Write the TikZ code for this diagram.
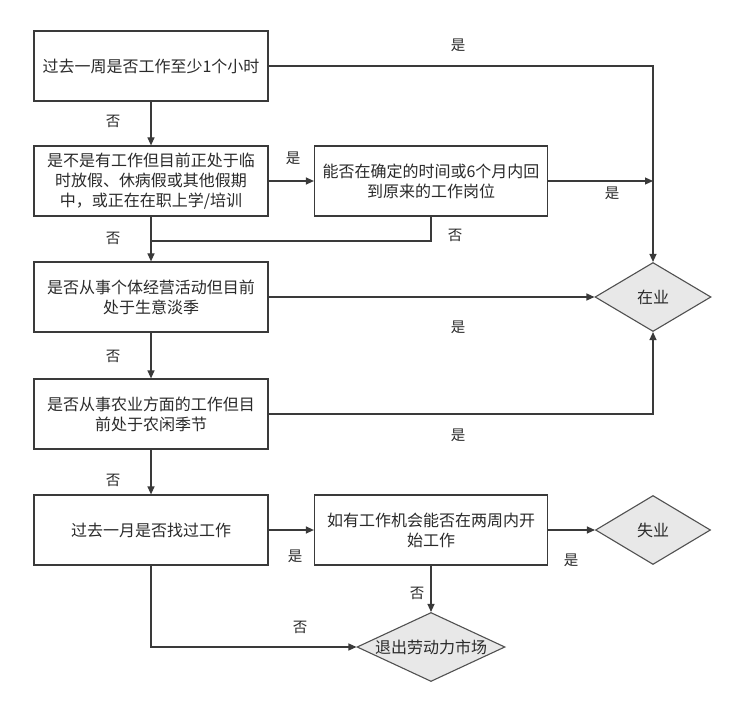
\documentclass[tikz,border=0pt]{standalone}
\usepackage{fontspec}
\setmainfont{Noto Sans CJK SC}
\usetikzlibrary{shapes.geometric,arrows.meta}
\definecolor{linec}{HTML}{3A3A3A}
\definecolor{txtc}{HTML}{2A2A2A}
\definecolor{dfill}{HTML}{E8E8E8}
\definecolor{dline}{HTML}{505050}
\begin{document}
\begin{tikzpicture}[x=1pt,y=-1pt,
  box/.style={draw=linec,line width=1.2pt,fill=white,minimum width=234pt,minimum height=70pt,
    inner sep=0pt,align=center,text=txtc,font=\fontsize{16}{20}\selectfont},
  dia/.style={diamond,draw=dline,line width=1.1pt,fill=dfill,aspect=2.4,inner sep=0pt,
    text=txtc,font=\fontsize{16}{20}\selectfont},
  conn/.style={draw=linec,line width=1.2pt},
  arr/.style={conn,-{Triangle[length=8pt,width=7pt]}},
  lbl/.style={text=txtc,font=\fontsize{14.5}{16}\selectfont,inner sep=0pt}]
\useasboundingbox (0,0) rectangle (742,722);
\fill[white] (0,0) rectangle (742,722);
% boxes
\node[box] (b1) at (151,66) {过去一周是否工作至少1个小时};
\node[box] (b2) at (151,181) {是不是有工作但目前正处于临\\时放假、休病假或其他假期\\中，或正在在职上学/培训};
\node[box,minimum width=233pt] (b3) at (431,181) {能否在确定的时间或6个月内回\\到原来的工作岗位};
\node[box] (b4) at (151,297) {是否从事个体经营活动但目前\\处于生意淡季};
\node[box] (b5) at (151,414) {是否从事农业方面的工作但目\\前处于农闲季节};
\node[box] (b6) at (151,530) {过去一月是否找过工作};
\node[box,minimum width=233pt] (b7) at (431,530) {如有工作机会能否在两周内开\\始工作};
% diamonds
\node[dia,minimum width=116pt,minimum height=69pt] (d1) at (653,297) {在业};
\node[dia,minimum width=115pt,minimum height=69pt] (d2) at (653,530) {失业};
\node[dia,minimum width=148pt,minimum height=69pt] (d3) at (431,647) {退出劳动力市场};
% helper coordinates
\coordinate (c1) at (653,66);
\coordinate (c2) at (653,181);
\coordinate (c3) at (431,241);
\coordinate (c4) at (151,241);
\coordinate (c5) at (653,414);
\coordinate (c6) at (151,647);
% connectors
\draw[arr] (b1.east) -- (c1) -- (d1.north);
\draw[arr] (b1.south) -- (b2.north);
\draw[arr] (b2.east) -- (b3.west);
\draw[arr] (b3.east) -- (c2);
\draw[conn] (b3.south) -- (c3) -- (c4);
\draw[arr] (b2.south) -- (b4.north);
\draw[arr] (b4.east) -- (d1.west);
\draw[arr] (b4.south) -- (b5.north);
\draw[arr] (b5.east) -- (c5) -- (d1.south);
\draw[arr] (b5.south) -- (b6.north);
\draw[arr] (b6.east) -- (b7.west);
\draw[arr] (b7.east) -- (d2.west);
\draw[arr] (b7.south) -- (d3.north);
\draw[arr] (b6.south) -- (c6) -- (d3.west);
% labels
\node[lbl] (l1) at (458,45) {是};
\node[lbl] (l2) at (113,121) {否};
\node[lbl] (l3) at (293,158) {是};
\node[lbl] (l4) at (612,193) {是};
\node[lbl] (l5) at (455,235) {否};
\node[lbl] (l6) at (113,238) {否};
\node[lbl] (l7) at (458,327) {是};
\node[lbl] (l8) at (113,356) {否};
\node[lbl] (l9) at (458,435) {是};
\node[lbl] (l10) at (113,480) {否};
\node[lbl] (l11) at (295,556) {是};
\node[lbl] (l12) at (571,560) {是};
\node[lbl] (l13) at (417,593) {否};
\node[lbl] (l14) at (300,627) {否};
\end{tikzpicture}
\end{document}
